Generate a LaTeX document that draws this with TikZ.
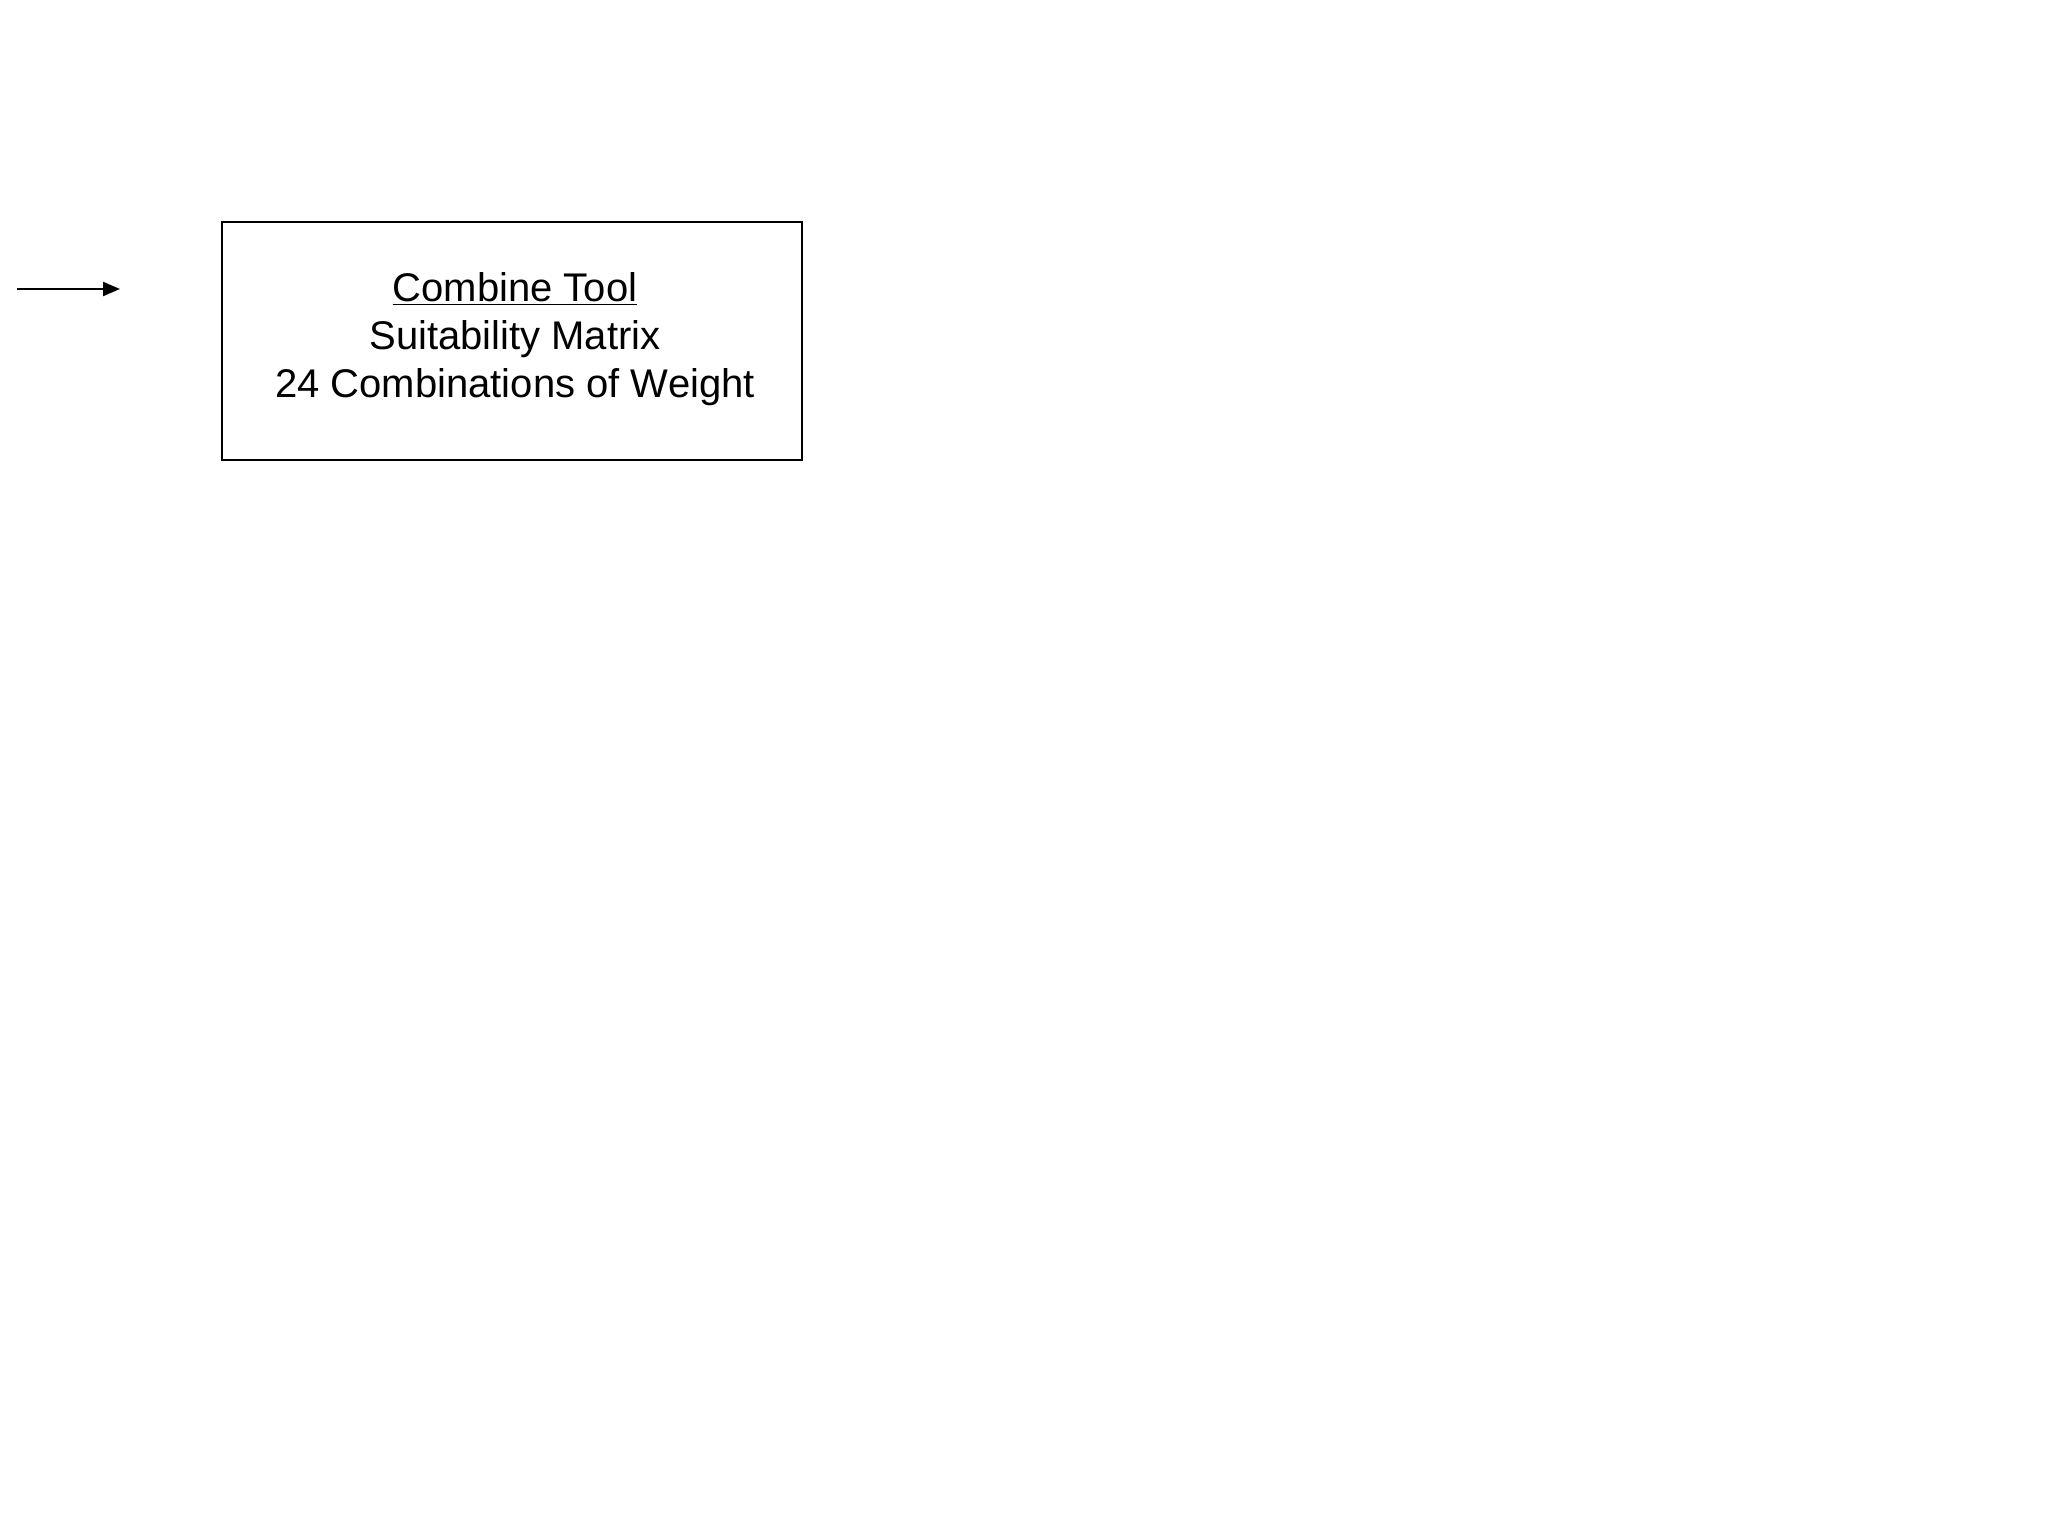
\documentclass[tikz,border=0pt]{standalone}
\usepackage{fontspec}
\setmainfont{Liberation Sans}
\usetikzlibrary{arrows.meta}
\begin{document}
\begin{tikzpicture}[x=0.5pt,y=-0.5pt,
  boxstyle/.style={draw=black,line width=1pt,minimum width=290pt,minimum height=119pt,inner sep=0pt},
  txtstyle/.style={align=center,font=\fontsize{20pt}{23.9pt}\selectfont,inner sep=0pt},
  arrstyle/.style={line width=1.1pt,-{Triangle[length=8.5pt,width=7pt]}}]
\useasboundingbox[fill=white] (0,0) rectangle (2048,1536);
\node[boxstyle] (box) at (512,341) {};
\node[txtstyle] (lbl) at (515,339) {\underline{Combine Tool}\\Suitability Matrix\\24 Combinations of Weight};
\coordinate (a0) at (17,289);
\coordinate (a1) at (120,289);
\draw[arrstyle] (a0) -- (a1);
\end{tikzpicture}
\end{document}
